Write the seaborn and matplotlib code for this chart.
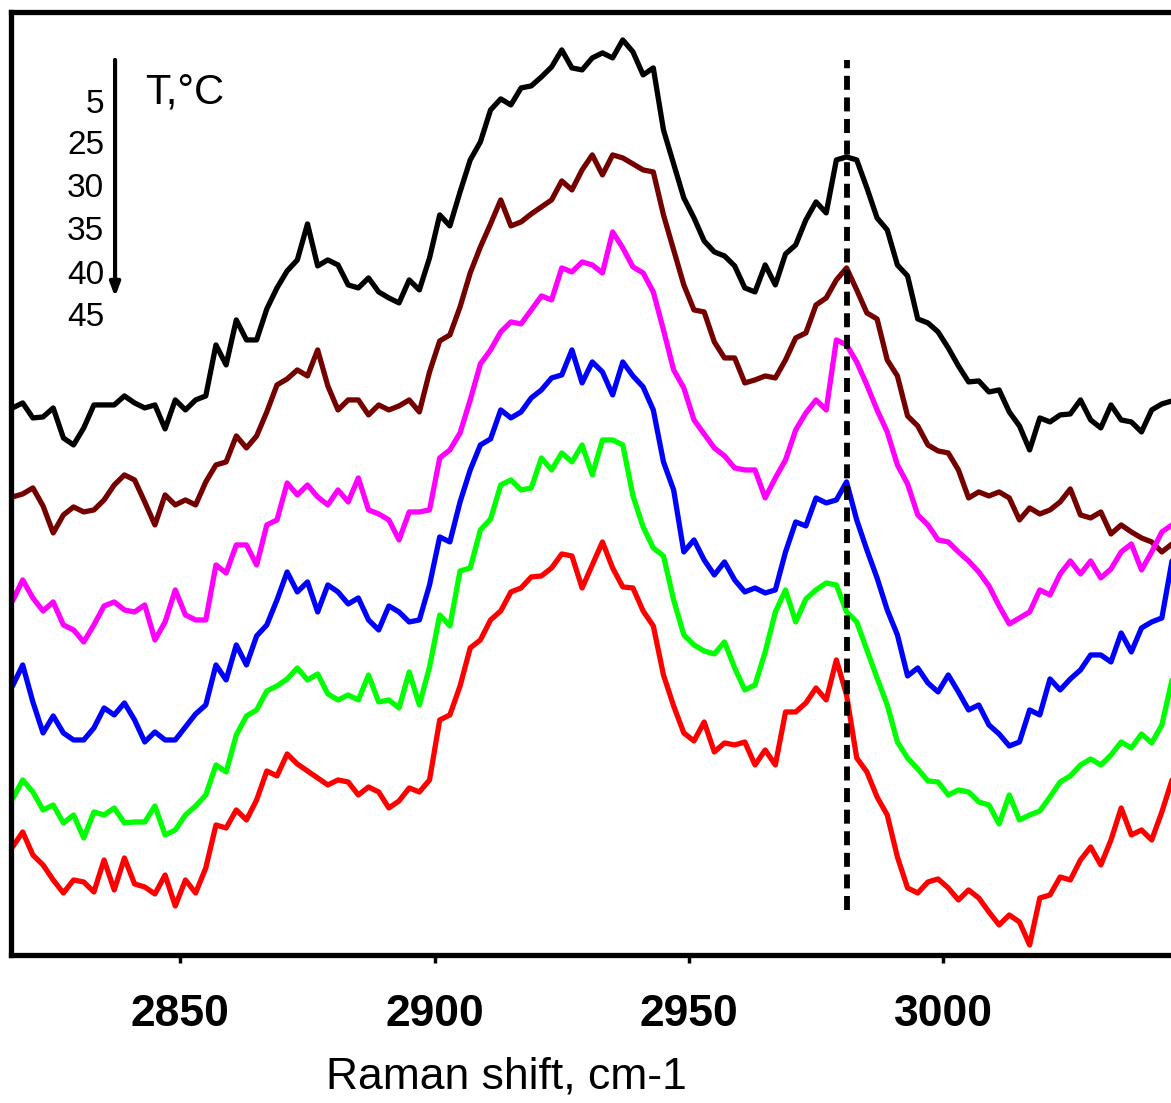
import numpy as np
import pandas as pd
import matplotlib
matplotlib.use("Agg")
import matplotlib.pyplot as plt
import seaborn as sns

# ---------------- data ----------------
wavenumber = list(range(2817, 3046, 2))  # cm-1, 115 points

temps = ["5", "25", "30", "35", "40", "45"]
colors = ["#000000", "#740000", "#FF00FF", "#0000FF", "#00FF00", "#FF0000"]

I_5 = [547, 552, 537, 538, 547, 517, 510, 527, 550, 550,
       550, 559, 552, 547, 550, 526, 555, 545, 555, 559,
       610, 590, 635, 615, 615, 646, 667, 684, 695, 731,
       689, 695, 690, 670, 667, 677, 663, 657, 652, 675,
       665, 697, 740, 729, 763, 795, 813, 845, 856, 850,
       867, 869, 878, 888, 905, 887, 885, 897, 902, 897,
       915, 903, 880, 887, 825, 791, 757, 737, 714, 703,
       699, 689, 667, 663, 690, 670, 701, 710, 735, 753,
       742, 795, 798, 795, 767, 737, 725, 690, 679, 636,
       632, 623, 607, 589, 573, 574, 563, 565, 543, 529,
       505, 537, 533, 540, 541, 555, 535, 527, 550, 535,
       533, 523, 545, 551, 554]

I_25 = [458, 461, 467, 449, 422, 440, 448, 443, 445, 455,
        470, 480, 475, 453, 430, 460, 450, 455, 450, 473,
        490, 493, 519, 507, 519, 543, 570, 576, 585, 579,
        605, 569, 545, 555, 555, 540, 550, 545, 549, 555,
        543, 583, 614, 620, 648, 682, 708, 731, 755, 729,
        733, 741, 748, 755, 774, 765, 785, 800, 780, 800,
        797, 791, 785, 783, 740, 705, 670, 645, 643, 613,
        597, 597, 572, 575, 579, 577, 595, 617, 622, 650,
        657, 675, 687, 665, 642, 636, 595, 579, 539, 529,
        510, 504, 502, 485, 457, 463, 459, 463, 457, 435,
        447, 441, 445, 453, 466, 440, 437, 443, 421, 430,
        423, 417, 413, 403, 411]

I_30 = [354, 375, 357, 344, 353, 330, 325, 313, 330, 349,
        353, 345, 343, 350, 315, 333, 365, 340, 335, 335,
        390, 382, 410, 410, 390, 430, 435, 472, 460, 470,
        458, 450, 465, 453, 477, 445, 441, 435, 415, 443,
        443, 445, 497, 505, 522, 555, 591, 605, 623, 633,
        631, 645, 659, 655, 687, 683, 693, 690, 682, 723,
        707, 688, 682, 663, 625, 585, 567, 535, 521, 507,
        499, 487, 485, 485, 457, 477, 495, 525, 542, 555,
        545, 615, 610, 593, 570, 545, 523, 490, 471, 440,
        430, 415, 413, 403, 394, 383, 369, 349, 331, 337,
        343, 365, 360, 381, 394, 381, 394, 377, 386, 403,
        411, 385, 403, 423, 430]

I_35 = [269, 290, 253, 222, 239, 222, 215, 215, 227, 247,
        240, 252, 235, 213, 223, 215, 215, 228, 241, 250,
        290, 275, 310, 290, 319, 330, 355, 383, 363, 373,
        343, 370, 363, 351, 357, 335, 325, 349, 343, 333,
        335, 370, 418, 413, 453, 485, 510, 516, 545, 537,
        543, 557, 565, 577, 580, 605, 572, 593, 583, 560,
        593, 579, 568, 545, 493, 465, 403, 415, 395, 380,
        393, 375, 363, 367, 362, 365, 403, 433, 429, 457,
        452, 455, 473, 435, 405, 377, 345, 320, 279, 287,
        272, 263, 280, 263, 245, 250, 230, 221, 209, 213,
        245, 240, 276, 265, 276, 285, 300, 300, 293, 322,
        303, 327, 333, 337, 394]

I_40 = [156, 175, 163, 145, 150, 132, 140, 117, 143, 140,
        147, 132, 133, 133, 149, 120, 125, 140, 149, 160,
        190, 183, 220, 239, 245, 264, 269, 276, 287, 275,
        281, 261, 255, 260, 255, 280, 253, 255, 247, 283,
        250, 288, 340, 329, 384, 387, 425, 436, 470, 475,
        465, 467, 497, 485, 502, 493, 510, 480, 515, 515,
        510, 459, 428, 407, 399, 355, 320, 310, 304, 301,
        313, 287, 265, 270, 303, 343, 365, 333, 356, 365,
        372, 370, 343, 333, 305, 277, 250, 213, 197, 186,
        174, 173, 160, 165, 163, 153, 150, 131, 160, 135,
        140, 144, 158, 173, 179, 190, 196, 190, 200, 213,
        207, 221, 212, 230, 275]

I_45 = [108, 123, 100, 90, 75, 62, 75, 73, 63, 95,
        65, 97, 71, 68, 61, 80, 49, 75, 62, 87,
        130, 127, 145, 135, 155, 184, 179, 201, 191, 184,
        177, 170, 175, 173, 160, 168, 163, 147, 154, 167,
        163, 175, 235, 240, 269, 307, 315, 335, 344, 363,
        367, 378, 379, 387, 401, 399, 367, 390, 413, 387,
        368, 367, 344, 329, 280, 249, 222, 214, 233, 203,
        212, 210, 213, 190, 205, 190, 243, 243, 252, 267,
        255, 295, 260, 197, 183, 158, 140, 98, 67, 62,
        73, 76, 67, 55, 65, 57, 43, 30, 40, 33,
        10, 57, 60, 78, 75, 95, 108, 90, 115, 147,
        120, 125, 115, 143, 175]

series = [I_5, I_25, I_30, I_35, I_40, I_45]

xticks = [2850, 2900, 2950, 3000]
xlabel = "Raman shift, cm-1"
legend_title = "T,°C"
marker_line_x = 2981

# ---------------- figure ----------------
sns.set_style("white")
plt.rcParams["font.family"] = ["Liberation Sans", "DejaVu Sans"]
plt.rcParams["text.color"] = "black"
plt.rcParams["axes.labelcolor"] = "black"
plt.rcParams["xtick.color"] = "black"

df = pd.concat(
    [pd.DataFrame({"wavenumber": wavenumber, "intensity": s, "T": t})
     for t, s in zip(temps, series)],
    ignore_index=True,
)

fig = plt.figure(figsize=(11.71, 11.03), dpi=100)
ax = fig.add_axes([0.0094, 0.1342, 0.9906, 0.855])

sns.lineplot(data=df, x="wavenumber", y="intensity", hue="T",
             hue_order=temps, palette=colors, estimator=None,
             errorbar=None, linewidth=3.8, legend=False, ax=ax)

ax.set_xlim(2816.7, 3044.8)
ax.set_ylim(0, 943)

ax.axvline(marker_line_x, ymin=45 / 943, ymax=895 / 943, color="black",
           linewidth=4.2, dashes=(2.4, 1.3), dash_capstyle="butt")

# spines / ticks
for side in ["left", "bottom", "top"]:
    ax.spines[side].set_linewidth(3.8)
    ax.spines[side].set_color("black")
ax.spines["right"].set_visible(False)

ax.set_yticks([])
ax.set_xticks(xticks)
ax.set_xticklabels([str(t) for t in xticks], fontsize=32, fontweight="bold",
                   color="black")
ax.tick_params(axis="x", direction="out", length=6, width=2.5, pad=22,
               bottom=True, top=False, colors="black")
ax.set_ylabel("")
ax.set_xlabel(xlabel, fontsize=32, color="black")
ax.xaxis.set_label_coords(0.427, -0.108)

# temperature annotation
num_y = [0.9014, 0.8579, 0.8123, 0.7667, 0.7200, 0.6755]
for t, yy in zip(temps, num_y):
    ax.text(0.0802, yy, t, transform=ax.transAxes, ha="right", va="center",
            fontsize=24, color="black")
ax.text(0.1155, 0.9141, legend_title, transform=ax.transAxes, ha="left",
        va="center", fontsize=30, color="black")
ax.annotate("", xy=(0.0897, 0.6978), xytext=(0.0897, 0.9491),
            xycoords="axes fraction", textcoords="axes fraction",
            arrowprops=dict(arrowstyle="-|>,head_length=0.8,head_width=0.3",
                            color="black", lw=3.0, shrinkA=0, shrinkB=0))

fig.savefig("out.png", dpi=100, facecolor="white")
